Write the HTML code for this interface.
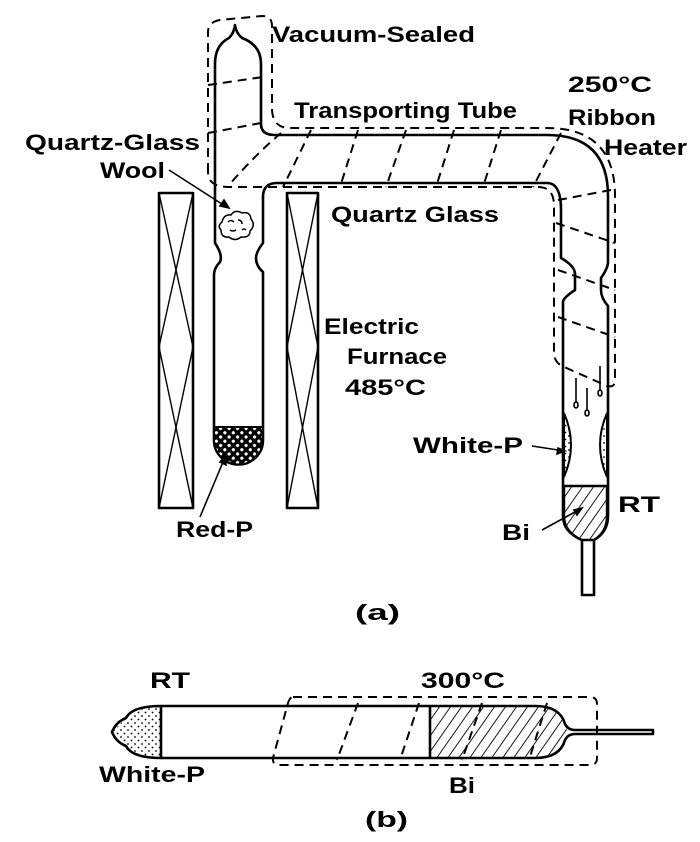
<!DOCTYPE html>
<html><head><meta charset="utf-8"><style>
html,body{margin:0;padding:0;background:#fff}
svg{display:block}
text{font-family:"Liberation Sans",sans-serif;font-weight:bold;fill:#000;font-size:22px}
</style></head><body>
<svg width="700" height="842" viewBox="0 0 700 842" xmlns="http://www.w3.org/2000/svg">
<defs>
<pattern id="hatch" width="9" height="9" patternUnits="userSpaceOnUse" patternTransform="rotate(35)">
<rect width="9" height="9" fill="#fff"/><line x1="0" y1="0" x2="0" y2="9" stroke="#000" stroke-width="1.8"/></pattern>
<pattern id="redp" width="6" height="6" patternUnits="userSpaceOnUse" patternTransform="rotate(45)">
<rect width="6" height="6" fill="#000"/><circle cx="3" cy="3" r="1.6" fill="#fff"/></pattern>
<pattern id="dots" width="7" height="7" patternUnits="userSpaceOnUse">
<rect width="7" height="7" fill="#fff"/><circle cx="2" cy="2" r="0.9" fill="#000"/><circle cx="5.5" cy="5.5" r="0.9" fill="#000"/></pattern>
<clipPath id="bclip"><path d="M430,706 H535 Q560,706 565,725 L568,732 L565,739 Q560,758 535,758 H430Z"/></clipPath>
</defs>

<g fill="none" stroke="#000" stroke-width="2.6" stroke-linejoin="round">
<rect x="159" y="193" width="34" height="315"/>
<rect x="287" y="193" width="31" height="315"/>
<g stroke-width="1.4">
<polyline points="159,193 193,347 159,508"/><polyline points="193,193 159,347 193,508"/>
<polyline points="287,193 318,347 287,508"/><polyline points="318,193 287,347 318,508"/>
</g>

<path d="M214,440 V275 Q214,268 220,262 Q223,255 215,243 V64 Q215,45 229,38 Q234,33 235,25 Q236,33 242,38 Q261,45 261,64 V124 Q261,135 275,135 H547 Q608,135 608,196 V262 Q608,268 601,278 V290 Q601,298 608,306 V516 Q608,532 594,540 V595 H582 V540 Q563,532 563,516 V302 Q563,298 575,290 V274 Q575,266 561,258 V210 Q561,183 547,183 H277 Q263,183 263,197 V243 Q256,252 256,258 Q256,266 263,272 V440 A24.5,24.5 0 0 1 214,440 Z"/>
</g>
<path d="M214,427 H263 V440 A24.5,24.5 0 0 1 214,440 Z" fill="url(#redp)" stroke="#000" stroke-width="2"/>
<g fill="none" stroke="#000" stroke-width="1.5">
<path d="M222,222 q2,-8 9,-7 q4,-6 11,-2 q8,-2 9,6 q5,6 -1,12 q0,7 -9,6 q-6,5 -12,0 q-8,1 -8,-7 q-4,-4 1,-8z"/>
<path d="M228,222 q3,-3 6,0 M238,220 q4,0 4,4 M230,230 q3,2 6,0 M242,230 q2,-2 4,0"/>
</g>
<path d="M564,413 Q578,445 564,477 Z" fill="url(#dots)" stroke="#000" stroke-width="2"/>
<path d="M607,413 Q593,445 607,477 Z" fill="url(#dots)" stroke="#000" stroke-width="2"/>
<path d="M564,486 H607 V516 Q607,532 594,540 H582 Q564,532 564,516 Z" fill="url(#hatch)" stroke="#000" stroke-width="2.4"/>
<g fill="none" stroke="#000" stroke-width="1.6">
<path d="M576,378 V402 m-2,3 a2,3 0 1 0 4,0 a2,3 0 1 0 -4,0"/>
<path d="M587,388 V410 m-2,3 a2,3 0 1 0 4,0 a2,3 0 1 0 -4,0"/>
<path d="M600,366 V390 m-2,3 a2,3 0 1 0 4,0 a2,3 0 1 0 -4,0"/>
</g>

<g fill="none" stroke="#000" stroke-width="2" stroke-dasharray="9,6">
<path d="M208,172 V32 Q208,22 220,20 L262,16 Q272,16 272,26 V108 Q272,128 290,128 H547 Q615,128 615,196 V380 Q615,388 607,386 L562,366 Q554,362 554,352 V206 Q554,187 538,187 H229 Q208,187 208,172"/>
<path d="M208,85 L263,77 M208,133 L261,123"/>
<path d="M281,133 Q255,155 229,185 M311,130 L283,187 M358,130 L340,187 M406,130 L386,187 M454,130 L436,187 M501,130 L483,187 M561,133 L533,187"/>
<path d="M558,200 L611,190 M556,223 L615,243 M558,270 L615,290 M558,317 L615,337"/>
</g>

<g stroke="#000" stroke-width="1.6" fill="#000">
<line x1="169" y1="170" x2="225" y2="206"/><path d="M229,208 l-9,-2 l4,-6z"/>
<line x1="200" y1="517" x2="223" y2="462"/><path d="M226,455 l0,10 l-6,-3z"/>
<line x1="532" y1="446" x2="558" y2="450"/><path d="M565,451 l-8,3 l1,-6z"/>
<line x1="542" y1="530" x2="575" y2="512"/><path d="M582,508 l-5,7 l-3,-5z"/>
</g>

<path d="M430,706 H570 V758 H430Z" fill="url(#hatch)" clip-path="url(#bclip)"/>
<path d="M126,718 Q132,706 161,706 V758 Q132,758 126,746 L112,732 Z" fill="url(#dots)"/>
<g fill="none" stroke="#000" stroke-width="2.6" stroke-linejoin="round">
<path d="M161,706 H535 Q560,706 565,724 Q568,730 575,730 H653 V734 H575 Q568,734 565,740 Q560,758 535,758 H161"/>
<path d="M161,706 Q132,706 126,718 Q116,722 112,732 Q116,742 126,746 Q132,758 161,758 Z"/>
<line x1="430" y1="706" x2="430" y2="758"/>
</g>
<g fill="none" stroke="#000" stroke-width="2" stroke-dasharray="9,6">
<path d="M293,697 H590 Q597,697 597,704 V758 Q597,765 590,765 H280 Q272,765 273,758 L288,703 Q290,697 293,697"/>
<path d="M358,703 L337,760 M419,703 L400,760 M482,703 L462,760 M547,703 L529,760"/>
</g>

<text x="272" y="42" textLength="203" lengthAdjust="spacingAndGlyphs">Vacuum-Sealed</text>
<text x="294" y="118" textLength="223" lengthAdjust="spacingAndGlyphs">Transporting Tube</text>
<text x="568" y="92" textLength="84" lengthAdjust="spacingAndGlyphs">250°C</text>
<text x="568" y="125" textLength="88" lengthAdjust="spacingAndGlyphs">Ribbon</text>
<text x="604" y="155" textLength="83" lengthAdjust="spacingAndGlyphs">Heater</text>
<text x="25" y="150" textLength="175" lengthAdjust="spacingAndGlyphs">Quartz-Glass</text>
<text x="100" y="178" textLength="65" lengthAdjust="spacingAndGlyphs">Wool</text>
<text x="331" y="222" textLength="168" lengthAdjust="spacingAndGlyphs">Quartz Glass</text>
<text x="324" y="334" textLength="95" lengthAdjust="spacingAndGlyphs">Electric</text>
<text x="347" y="364" textLength="100" lengthAdjust="spacingAndGlyphs">Furnace</text>
<text x="345" y="395" textLength="81" lengthAdjust="spacingAndGlyphs">485°C</text>
<text x="176" y="537" textLength="77" lengthAdjust="spacingAndGlyphs">Red-P</text>
<text x="413" y="453" textLength="110" lengthAdjust="spacingAndGlyphs">White-P</text>
<text x="618" y="512" textLength="42" lengthAdjust="spacingAndGlyphs">RT</text>
<text x="502" y="540" textLength="28" lengthAdjust="spacingAndGlyphs">Bi</text>
<text x="355" y="620" textLength="45" lengthAdjust="spacingAndGlyphs">(a)</text>
<text x="150" y="688" textLength="40" lengthAdjust="spacingAndGlyphs">RT</text>
<text x="421" y="688" textLength="84" lengthAdjust="spacingAndGlyphs">300°C</text>
<text x="99" y="782" textLength="106" lengthAdjust="spacingAndGlyphs">White-P</text>
<text x="449" y="793" textLength="26" lengthAdjust="spacingAndGlyphs">Bi</text>
<text x="365" y="827" textLength="43" lengthAdjust="spacingAndGlyphs">(b)</text>
</svg>
</body></html>
